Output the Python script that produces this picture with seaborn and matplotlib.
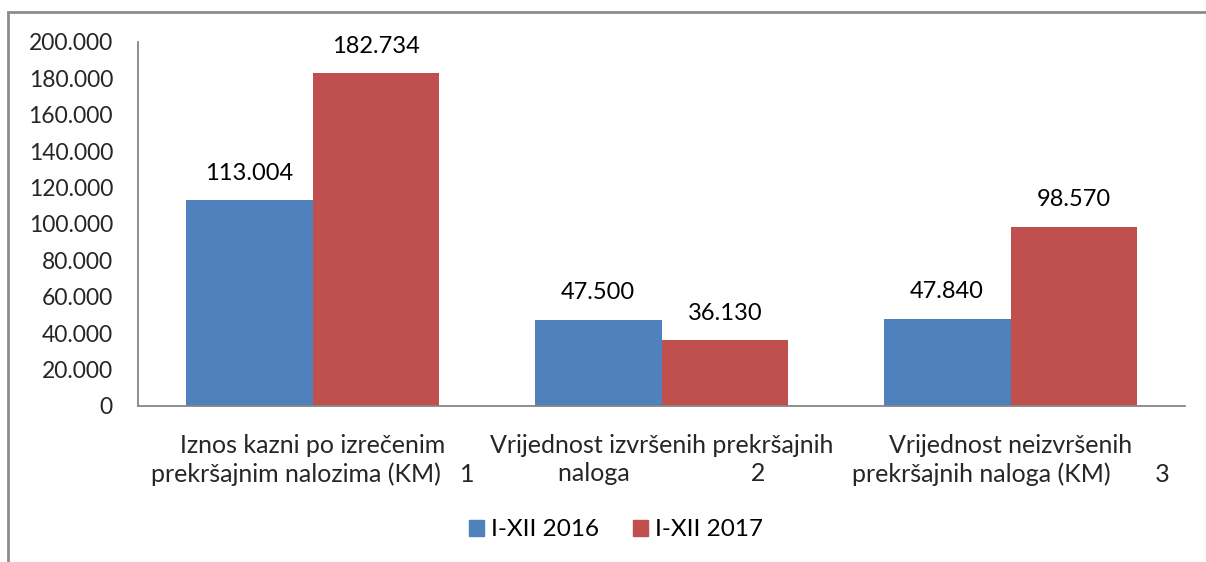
import seaborn as sns
import matplotlib.pyplot as plt
import matplotlib.patches as mpatches
from matplotlib.ticker import FuncFormatter
import pandas as pd

categories = [
    "Iznos kazni po izrečenim\nprekršajnim nalozima (KM)   1",
    "Vrijednost izvršenih prekršajnih\nnaloga                   2",
    "Vrijednost neizvršenih\nprekršajnih naloga (KM)       3",
]
series = ["I-XII 2016", "I-XII 2017"]
values_2016 = [113004, 47500, 47840]
values_2017 = [182734, 36130, 98570]
colors = ["#4F81BD", "#C0504D"]


def dotted(v, pos=None):
    return f"{int(round(v)):,}".replace(",", ".")


def set_style():
    sns.set_theme(style="white")
    plt.rcParams['font.family'] = ['Lato', 'DejaVu Sans']
    plt.rcParams['text.color'] = 'black'


def plot_chart():
    df = pd.DataFrame({
        'Category': categories * 2,
        'Period': [series[0]] * 3 + [series[1]] * 3,
        'Value': values_2016 + values_2017,
    })
    fig = plt.figure(figsize=(12.06, 5.62), dpi=100)
    ax = fig.add_axes([138 / 1206, 1 - 406 / 562, (1185 - 138) / 1206, (406 - 42) / 562])
    sns.barplot(data=df, x='Category', y='Value', hue='Period', palette=colors,
                width=0.727, gap=0, saturation=1, linewidth=0, ax=ax)

    ax.set_ylim(0, 200000)
    ax.set_yticks(range(0, 200001, 20000))
    ax.yaxis.set_major_formatter(FuncFormatter(dotted))
    ax.tick_params(axis='y', length=0, pad=18, labelsize=16.5)
    ax.tick_params(axis='x', length=0, pad=20, labelsize=18)
    for lbl in ax.get_xticklabels():
        lbl.set_multialignment('center')
        lbl.set_linespacing(1.3)
    ax.set_xlabel('')
    ax.set_ylabel('')

    for side in ['top', 'right']:
        ax.spines[side].set_visible(False)
    for side in ['left', 'bottom']:
        ax.spines[side].set_color('#868686')
        ax.spines[side].set_linewidth(1.3)

    for cont in ax.containers:
        ax.bar_label(cont, labels=[dotted(v) for v in cont.datavalues],
                     padding=12, fontsize=17)

    handles = [mpatches.Patch(color=c, label=s) for c, s in zip(colors, series)]
    ax.get_legend().remove()
    fig.legend(handles=handles, loc='center', bbox_to_anchor=(616 / 1206, 1 - 530 / 562),
               ncol=2, frameon=False, fontsize=17.5, handlelength=0.6, handleheight=0.6,
               handletextpad=0.3, columnspacing=1.4)

    fig.patches.append(mpatches.Rectangle((8 / 1206, -0.1), 1.1, 1 - 12 / 562 + 0.1,
                                          transform=fig.transFigure, fill=False,
                                          edgecolor='#8c8c8c', linewidth=2))
    return fig


if __name__ == "__main__":
    set_style()
    plot_chart().savefig('out.png', dpi=100)
